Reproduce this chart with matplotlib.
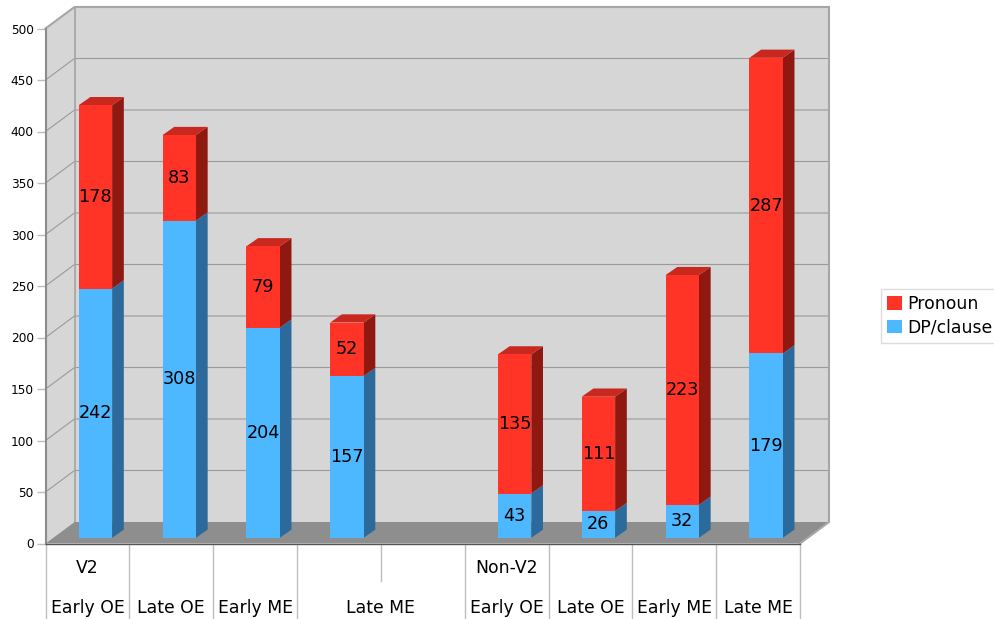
import matplotlib
matplotlib.use("Agg")
import matplotlib.pyplot as plt
from matplotlib.patches import Polygon, Patch

# --- data ---
periods = ["Early OE", "Late OE", "Early ME", "Late ME", "Early OE", "Late OE", "Early ME", "Late ME"]
slots = [0, 1, 2, 3, 5, 6, 7, 8]
dp_clause = [242, 308, 204, 157, 43, 26, 32, 179]
pronoun = [178, 83, 79, 52, 135, 111, 223, 287]
y_ticks = [0, 50, 100, 150, 200, 250, 300, 350, 400, 450, 500]
period_tick_pos = [0.5, 1.5, 2.5, 4.0, 5.5, 6.5, 7.5, 8.5]

# --- style ---
W, H = 994, 619
L, R, T, B = 45.5, 800.0, 28.5, 543.5
PX_X = (R - L) / 9
PX_Y = (B - T) / 500
DX, DY = 29 / PX_X, 21.5 / PX_Y        # full floor depth
BAR_DX, BAR_DY = 11.7 / PX_X, 8.2 / PX_Y  # bar depth
OFF_X, OFF_Y = 8 / PX_X, 5.7 / PX_Y    # bar front offset from front plane
BAR_W = 33.4 / PX_X

RED, RED_TOP, RED_SIDE = "#ff3326", "#c8281e", "#8f1810"
BLUE, BLUE_SIDE = "#4db8ff", "#2b6a9b"
WALL, FLOOR, GRID, EDGE = "#d6d6d6", "#8e8e8e", "#9a9a9a", "#a6a6a6"
FS = 12.4

plt.rcParams["font.family"] = ["DejaVu Sans"]
fig = plt.figure(figsize=(W / 100, H / 100), dpi=100)
ax = fig.add_axes([L / W, (H - B) / H, (R - L) / W, (B - T) / H])
ax.set_xlim(0, 9)
ax.set_ylim(0, 500)
ax.patch.set_visible(False)

def poly(pts, **kw):
    ax.add_patch(Polygon(pts, closed=True, clip_on=False, **kw))

# walls and floor
poly([(DX, DY), (9 + DX, DY), (9 + DX, 500 + DY), (DX, 500 + DY)], fc=WALL, ec="none", zorder=1)
poly([(0, 0), (DX, DY), (DX, 500 + DY), (0, 500)], fc=WALL, ec="none", zorder=1)
poly([(0, 0), (9, 0), (9 + DX, DY), (DX, DY)], fc=FLOOR, ec="none", zorder=2)
for v in y_ticks[1:-1]:
    ax.plot([0, DX, 9 + DX], [v, v + DY, v + DY], color=GRID, lw=0.8, clip_on=False, zorder=1.5)
ax.plot([0, DX, 9 + DX, 9 + DX, 9], [500, 500 + DY, 500 + DY, DY, 0], color=EDGE, lw=1.5,
        clip_on=False, zorder=2.5, solid_joinstyle="miter")
ax.plot([DX, DX], [DY, 500 + DY], color=EDGE, lw=1.3, clip_on=False, zorder=1.6)

# bars
for s, d, p in zip(slots, dp_clause, pronoun):
    x0 = s + 0.5 + OFF_X - BAR_W / 2
    x1 = x0 + BAR_W
    y0 = OFF_Y
    ym = y0 + d
    y1 = ym + p
    poly([(x1, y0), (x1 + BAR_DX, y0 + BAR_DY), (x1 + BAR_DX, ym + BAR_DY), (x1, ym)], fc=BLUE_SIDE, ec="none", zorder=3)
    poly([(x1, ym), (x1 + BAR_DX, ym + BAR_DY), (x1 + BAR_DX, y1 + BAR_DY), (x1, y1)], fc=RED_SIDE, ec="none", zorder=3)
    poly([(x0, y1), (x1, y1), (x1 + BAR_DX, y1 + BAR_DY), (x0 + BAR_DX, y1 + BAR_DY)], fc=RED_TOP, ec="none", zorder=3)
    xc = (x0 + x1) / 2
    ax.bar(xc, d, BAR_W, bottom=y0, color=BLUE, zorder=4, clip_on=False)
    ax.bar(xc, p, BAR_W, bottom=ym, color=RED, zorder=4, clip_on=False)
    ax.text(xc, y0 + d / 2, str(d), ha="center", va="center", fontsize=FS + 0.3, color="black", zorder=5)
    ax.text(xc, ym + p / 2, str(p), ha="center", va="center", fontsize=FS + 0.3, color="black", zorder=5)

# axes
for side in ("top", "right"):
    ax.spines[side].set_visible(False)
ax.spines["left"].set_color("#8c8c8c")
ax.spines["left"].set_linewidth(1.5)
ax.spines["left"].set_zorder(6)
ax.spines["bottom"].set_color("#555555")
ax.spines["bottom"].set_linewidth(1.0)
ax.spines["bottom"].set_zorder(6)
ax.set_yticks(y_ticks)
ax.tick_params(axis="y", length=6.5, width=1.0, color="#bdbdbd", pad=2, labelsize=8.7)
ax.set_xticks(period_tick_pos)
ax.set_xticklabels(periods)
ax.tick_params(axis="x", length=0, pad=40, labelsize=FS)

# category separators below the axis
low = -(H - B) / PX_Y
mid = -(581 - B) / PX_Y
for s in [0, 1, 2, 3, 5, 6, 7, 8, 9]:
    ax.plot([s, s], [0, low], color="#bdbdbd", lw=1.0, clip_on=False, zorder=1)
ax.plot([4, 4], [0, mid], color="#bdbdbd", lw=1.0, clip_on=False, zorder=1)
upper_y = -(568 - B) / PX_Y
ax.text(0.5, upper_y, "V2", ha="center", va="center", fontsize=FS)
ax.text(5.5, upper_y, "Non-V2", ha="center", va="center", fontsize=FS)

# legend
handles = [Patch(fc=RED, ec="none", label="Pronoun"), Patch(fc=BLUE, ec="none", label="DP/clause")]
leg = fig.legend(handles=handles, loc="upper left", bbox_to_anchor=(881 / W, 1 - 288.5 / H),
                 bbox_transform=fig.transFigure, fontsize=FS, frameon=True, fancybox=False,
                 edgecolor="#dddddd", facecolor="white", framealpha=1,
                 handlelength=0.85, handleheight=0.85, handletextpad=0.3,
                 borderpad=0.36, borderaxespad=0, labelspacing=0.33)
leg.get_frame().set_linewidth(1.0)

fig.savefig("out.png", dpi=100)
